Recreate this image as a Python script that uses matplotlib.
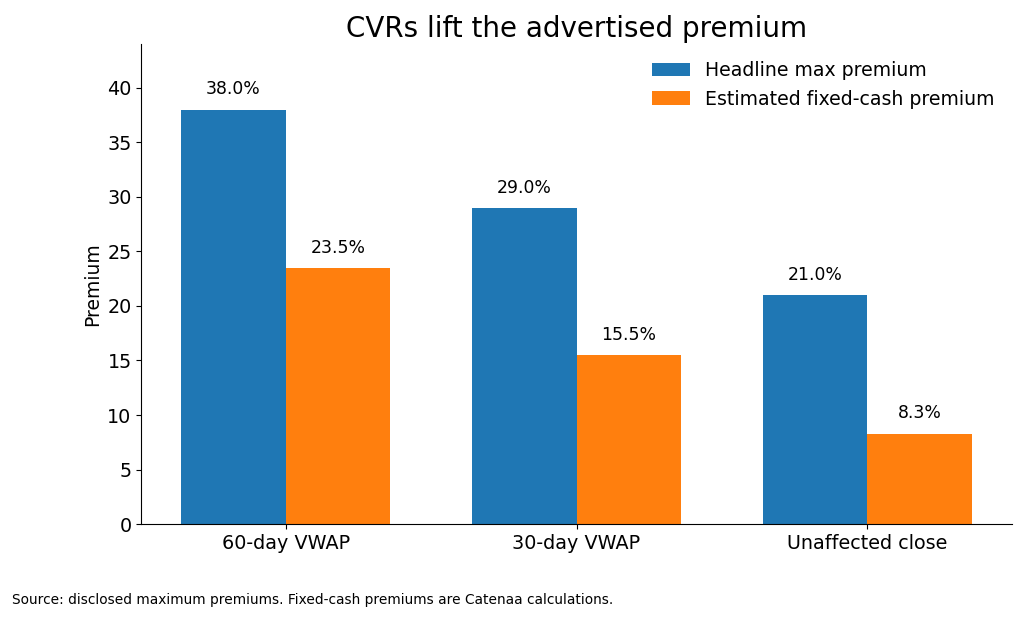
import numpy as np
import matplotlib.pyplot as plt

categories = ['60-day VWAP', '30-day VWAP', 'Unaffected close']
headline = [38.0, 29.0, 21.0]
fixed_cash = [23.5, 15.5, 8.3]

x = np.arange(len(categories))
w = 0.36

fig = plt.figure(figsize=(10.24, 6.21), dpi=100)
ax = fig.add_axes([0.138, 0.156, 0.850, 0.773])

b1 = ax.bar(x - w / 2, headline, w, color='#1f77b4', label='Headline max premium')
b2 = ax.bar(x + w / 2, fixed_cash, w, color='#ff7f0e', label='Estimated fixed-cash premium')

for bars in (b1, b2):
    for r in bars:
        h = r.get_height()
        ax.annotate(f'{h:.1f}%', (r.get_x() + r.get_width() / 2, h),
                    xytext=(0, 8), textcoords='offset points',
                    ha='center', va='bottom', fontsize=12.4)

ax.set_xticks(x)
ax.set_xticklabels(categories, fontsize=13.8)
ax.tick_params(axis='y', labelsize=13.8)
ax.set_ylim(0, 44)
ax.set_ylabel('Premium', fontsize=13.5)
ax.set_title('CVRs lift the advertised premium', fontsize=20, pad=5)
ax.spines['top'].set_visible(False)
ax.spines['right'].set_visible(False)
ax.legend(frameon=False, fontsize=13.6, loc='upper right')

fig.text(0.012, 0.028, 'Source: disclosed maximum premiums. Fixed-cash premiums are Catenaa calculations.',
         fontsize=9.9)

fig.savefig('out.png', dpi=100)
